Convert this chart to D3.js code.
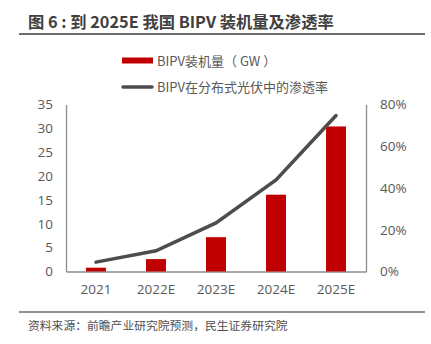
<!DOCTYPE html>
<html>
<head>
<meta charset="utf-8">
<script src="https://d3js.org/d3.v7.min.js"></script>
<style>
  body { margin: 0; background: #fff; }
  svg { display: block; font-family: "Noto Sans CJK SC", "Open Sans", sans-serif; }
</style>
</head>
<body>
<div id="chart"></div>
<script>
// BIPV installed capacity (GW) and penetration in distributed PV
const years = ["2021", "2022E", "2023E", "2024E", "2025E"];
const capacity = [0.8, 2.6, 7.2, 16.1, 30.4];
const penetration = [0.045, 0.099, 0.233, 0.439, 0.747];
const leftTicks = [0, 5, 10, 15, 20, 25, 30, 35];
const rightTicks = [0, 0.2, 0.4, 0.6, 0.8];

const width = 431, height = 344;
const margin = { top: 104.5, right: 65, bottom: 72.5, left: 66 };

const svg = d3.select("#chart")
  .append("svg")
  .attr("width", width)
  .attr("height", height);

// Title and rules
svg.append("text")
  .attr("x", 28)
  .attr("y", 27.5)
  .attr("font-size", 16.3)
  .attr("font-weight", "bold")
  .attr("fill", "#404040")
  .text("图 6 : 到 2025E 我国 BIPV 装机量及渗透率");

svg.append("line")
  .attr("x1", 19).attr("x2", 425)
  .attr("y1", 34).attr("y2", 34)
  .attr("stroke", "#6e6e6e")
  .attr("stroke-width", 2);

svg.append("line")
  .attr("x1", 19).attr("x2", 425)
  .attr("y1", 312).attr("y2", 312)
  .attr("stroke", "#6e6e6e")
  .attr("stroke-width", 1.5);

svg.append("text")
  .attr("x", 28)
  .attr("y", 329.5)
  .attr("font-size", 11.8)
  .attr("fill", "#505050")
  .text("资料来源：前瞻产业研究院预测，民生证券研究院");

// Scales
const x = d3.scaleBand()
  .domain(years)
  .range([margin.left, width - margin.right])
  .paddingInner(0.667)
  .paddingOuter(0.333);

const xPoint = d => x(d) + x.bandwidth() / 2;

const yLeft = d3.scaleLinear()
  .domain([0, 35])
  .range([height - margin.bottom, margin.top]);

const yRight = d3.scaleLinear()
  .domain([0, 0.8])
  .range([height - margin.bottom, margin.top]);

const axisColor = "#8c8c8c";
const labelColor = "#595959";

// Left axis
const leftAxis = svg.append("g")
  .attr("transform", `translate(${margin.left},0)`)
  .call(d3.axisLeft(yLeft).tickValues(leftTicks).tickSize(0).tickPadding(13));

// Right axis
const rightAxis = svg.append("g")
  .attr("transform", `translate(${width - margin.right},0)`)
  .call(d3.axisRight(yRight).tickValues(rightTicks).tickSize(0).tickPadding(14)
    .tickFormat(d3.format(".0%")));

// Bottom axis
const bottomAxis = svg.append("g")
  .attr("transform", `translate(0,${height - margin.bottom})`)
  .call(d3.axisBottom(x).tickSize(0).tickPadding(13));

[leftAxis, rightAxis, bottomAxis].forEach(g => {
  g.select(".domain").attr("stroke", axisColor).attr("stroke-width", 1.3);
  g.selectAll("text")
    .attr("fill", labelColor)
    .attr("font-size", 13.5)
    .attr("font-family", "'Open Sans', 'Noto Sans', sans-serif");
});

// Bars
svg.append("g")
  .selectAll("rect")
  .data(years)
  .join("rect")
  .attr("x", d => x(d))
  .attr("width", x.bandwidth())
  .attr("y", (d, i) => yLeft(capacity[i]))
  .attr("height", (d, i) => yLeft(0) - yLeft(capacity[i]))
  .attr("fill", "#c00000");

// Penetration line
const line = d3.line()
  .x((d, i) => xPoint(years[i]))
  .y(d => yRight(d));

svg.append("path")
  .datum(penetration)
  .attr("d", line)
  .attr("fill", "none")
  .attr("stroke", "#4d4d4d")
  .attr("stroke-width", 3.5)
  .attr("stroke-linecap", "round");

// Legend
const legend = svg.append("g").attr("font-size", 13).attr("fill", labelColor);

legend.append("rect")
  .attr("x", 122).attr("y", 57.5)
  .attr("width", 31).attr("height", 6)
  .attr("fill", "#c00000");

legend.append("text")
  .attr("x", 157).attr("y", 65.5)
  .attr("fill", labelColor)
  .text("BIPV装机量（ GW ）");

legend.append("line")
  .attr("x1", 123).attr("x2", 152)
  .attr("y1", 87).attr("y2", 87)
  .attr("stroke", "#4d4d4d")
  .attr("stroke-width", 3.5)
  .attr("stroke-linecap", "round");

legend.append("text")
  .attr("x", 157).attr("y", 91.5)
  .attr("fill", labelColor)
  .text("BIPV在分布式光伏中的渗透率");
</script>
</body>
</html>
